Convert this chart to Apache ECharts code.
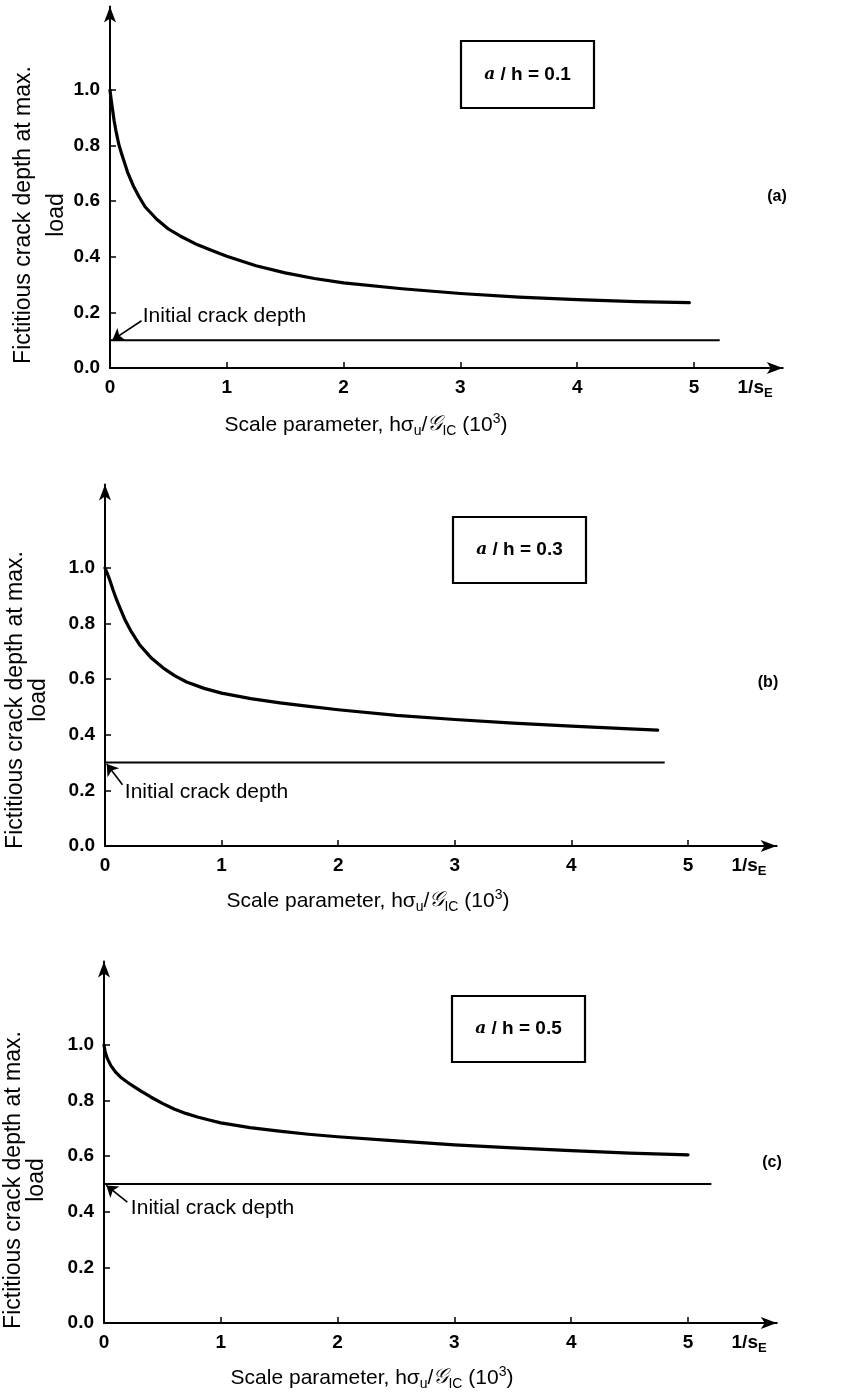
<!DOCTYPE html>
<html>
<head>
<meta charset="utf-8">
<script src="https://cdn.jsdelivr.net/npm/echarts@6/dist/echarts.min.js"></script>
<style>
  html, body { margin: 0; padding: 0; background: #fff; }
  #chart { width: 848px; height: 1394px; }
</style>
</head>
<body>
<div id="chart"></div>
<script>
// ---- data ----
const crackRatios = [0.1, 0.3, 0.5];          // a/h of each panel
const panelTags = ['(a)', '(b)', '(c)'];
const xTicks = [0, 1, 2, 3, 4, 5];
const yTicks = [0, 0.2, 0.4, 0.6, 0.8, 1.0];

// fictitious crack depth at max. load vs scale parameter
const curveA_x = [0, 0.01, 0.02, 0.035, 0.05, 0.075, 0.1, 0.15, 0.2, 0.25, 0.3, 0.4, 0.5, 0.6, 0.75, 0.9, 1.0, 1.25, 1.5, 1.75, 2.0, 2.5, 3.0, 3.5, 4.0, 4.5, 4.96];
const curveA_y = [1.0, 0.965, 0.935, 0.89, 0.855, 0.805, 0.77, 0.705, 0.655, 0.615, 0.58, 0.535, 0.50, 0.475, 0.443, 0.418, 0.402, 0.368, 0.342, 0.322, 0.306, 0.285, 0.268, 0.255, 0.246, 0.239, 0.235];
const curveB_x = [0, 0.02, 0.04, 0.07, 0.1, 0.13, 0.17, 0.22, 0.3, 0.4, 0.5, 0.6, 0.7, 0.85, 1.0, 1.25, 1.5, 1.75, 2.0, 2.5, 3.0, 3.5, 4.0, 4.5, 4.74];
const curveB_y = [1.0, 0.98, 0.958, 0.92, 0.885, 0.855, 0.815, 0.775, 0.722, 0.675, 0.64, 0.612, 0.59, 0.567, 0.55, 0.53, 0.515, 0.502, 0.49, 0.47, 0.455, 0.442, 0.431, 0.421, 0.417];
const curveC_x = [0, 0.01, 0.03, 0.06, 0.1, 0.14, 0.2, 0.25, 0.32, 0.4, 0.5, 0.6, 0.7, 0.8, 0.9, 1.0, 1.25, 1.5, 1.75, 2.0, 2.5, 3.0, 3.5, 4.0, 4.5, 5.0];
const curveC_y = [1.0, 0.975, 0.95, 0.925, 0.902, 0.885, 0.866, 0.852, 0.833, 0.813, 0.79, 0.77, 0.754, 0.741, 0.73, 0.72, 0.703, 0.69, 0.679, 0.67, 0.655, 0.641, 0.63, 0.62, 0.611, 0.605];

// horizontal "initial crack depth" line: right end on the x axis
const initialEndX = [5.22, 4.8, 5.2];
// pointer arrow (tail -> tip) and caption anchor, in data units
const arrowTail = [[0.27, 0.17], [0.15, 0.22], [0.20, 0.435]];
const arrowTip = [[0.02, 0.10], [0.015, 0.295], [0.02, 0.495]];
const captionAt = [[0.28, 0.185], [0.17, 0.194], [0.23, 0.414]];

const curvesX = [curveA_x, curveB_x, curveC_x];
const curvesY = [curveA_y, curveB_y, curveC_y];

// ---- layout ----
const X_MAX = 5.76, Y_MAX = 1.3;
const FONT = '"Liberation Sans", Arial, sans-serif';
const panels = [
  { left: 110, y0: 368,  px: 116.8, py: 278, box: [461, 41, 133, 67],  tag: [777, 197],
    titleX: 40.5, titleY: 215, titleLH: 33, nameY: 425,  nameX: 366 },
  { left: 105, y0: 846,  px: 116.6, py: 278, box: [453, 517, 133, 66], tag: [768, 683],
    titleX: 27.5, titleY: 700, titleLH: 23, nameY: 901,  nameX: 368 },
  { left: 104, y0: 1323, px: 116.8, py: 278, box: [452, 996, 133, 66], tag: [772, 1163],
    titleX: 25.5, titleY: 1180, titleLH: 23, nameY: 1378, nameX: 372 }
];

const grids = [], xAxes = [], yAxes = [], series = [], graphics = [];

panels.forEach((p, i) => {
  grids.push({
    left: p.left, top: p.y0 - Y_MAX * p.py,
    width: X_MAX * p.px, height: Y_MAX * p.py,
    outerBoundsMode: 'none', containLabel: false
  });
  xAxes.push({
    type: 'value', gridIndex: i, min: 0, max: X_MAX,
    axisLine: { show: true, onZero: false, symbol: ['none', 'arrow'], symbolSize: [9, 16],
      lineStyle: { color: '#000', width: 2 } },
    axisTick: { show: true, inside: true, length: 6, customValues: xTicks,
      lineStyle: { color: '#000', width: 1.5 } },
    axisLabel: { show: true, customValues: xTicks, color: '#000', fontFamily: FONT,
      fontWeight: 'bold', fontSize: 19, margin: 10, formatter: v => String(v) },
    splitLine: { show: false }
  });
  yAxes.push({
    type: 'value', gridIndex: i, min: 0, max: Y_MAX,
    axisLine: { show: true, onZero: false, symbol: ['none', 'arrow'], symbolSize: [9, 16],
      lineStyle: { color: '#000', width: 2 } },
    axisTick: { show: true, inside: true, length: 6, customValues: yTicks.slice(1),
      lineStyle: { color: '#000', width: 1.5 } },
    axisLabel: { show: true, customValues: yTicks, color: '#000', fontFamily: FONT,
      fontWeight: 'bold', fontSize: 19, margin: 10, formatter: v => v.toFixed(1) },
    splitLine: { show: false }
  });

  // main curve
  series.push({
    type: 'line', xAxisIndex: i, yAxisIndex: i, silent: true,
    data: curvesX[i].map((x, k) => [x, curvesY[i][k]]),
    showSymbol: false, smooth: false,
    lineStyle: { color: '#000', width: 3.2, cap: 'round', join: 'round' }
  });
  // initial crack depth line with its pointer arrow
  series.push({
    type: 'line', xAxisIndex: i, yAxisIndex: i, silent: true,
    data: [[0, crackRatios[i]], [initialEndX[i], crackRatios[i]]],
    showSymbol: false, lineStyle: { color: '#000', width: 2 },
    markLine: {
      silent: true, symbol: ['none', 'arrow'], symbolSize: 11,
      lineStyle: { color: '#000', width: 1.6, type: 'solid' },
      label: { show: false },
      data: [[{ coord: arrowTail[i] }, { coord: arrowTip[i] }]]
    }
  });
  // caption
  series.push({
    type: 'scatter', xAxisIndex: i, yAxisIndex: i, silent: true,
    data: [captionAt[i]], symbolSize: 0,
    itemStyle: { opacity: 1, color: '#000' },
    label: { show: true, position: 'right', distance: 0, formatter: 'Initial crack depth',
      color: '#000', opacity: 1, fontFamily: FONT, fontSize: 21 }
  });

  // a/h box
  const [bx, by, bw, bh] = p.box;
  graphics.push({
    type: 'rect', shape: { x: bx, y: by, width: bw, height: bh },
    style: { fill: '#fff', stroke: '#000', lineWidth: 2.2 }
  });
  graphics.push({
    type: 'text', x: bx + bw / 2, y: by + bh / 2,
    style: {
      text: '{i|a}{n| / h = ' + crackRatios[i].toFixed(1) + '}',
      align: 'center', verticalAlign: 'middle',
      rich: {
        i: { fontFamily: '"DejaVu Serif", serif', fontStyle: 'italic', fontWeight: 'bold', fontSize: 17, fill: '#000' },
        n: { fontFamily: FONT, fontWeight: 'bold', fontSize: 19, fill: '#000' }
      }
    }
  });
  // panel tag
  graphics.push({
    type: 'text', x: p.tag[0], y: p.tag[1],
    style: { text: panelTags[i], align: 'center', verticalAlign: 'middle',
      fontFamily: FONT, fontWeight: 'bold', fontSize: 16, fill: '#000' }
  });
  // y axis title (rotated, two lines)
  graphics.push({
    type: 'text', x: p.titleX, y: p.titleY, rotation: Math.PI / 2,
    style: { text: 'Fictitious crack depth at max.\nload', align: 'center', verticalAlign: 'middle',
      fontFamily: FONT, fontSize: 23, lineHeight: p.titleLH, fill: '#000' }
  });
  // x axis title
  graphics.push({
    type: 'text', x: p.nameX, y: p.nameY,
    style: {
      text: '{n|Scale parameter, hσ}{s|u}{n|/}{g|𝒢}{s|IC}{n| (10}{p|3}{n|)}',
      align: 'center', verticalAlign: 'middle',
      rich: {
        n: { fontFamily: FONT, fontSize: 21, fill: '#000', lineHeight: 26, verticalAlign: 'middle' },
        s: { fontFamily: FONT, fontSize: 14, fill: '#000', lineHeight: 26, verticalAlign: 'bottom', padding: [7, 0, 0, 0] },
        p: { fontFamily: FONT, fontSize: 14, fill: '#000', lineHeight: 26, verticalAlign: 'top', padding: [0, 0, 7, 0] },
        g: { fontFamily: '"DejaVu Serif", serif', fontStyle: 'italic', fontSize: 21, fill: '#000', lineHeight: 26, verticalAlign: 'middle' }
      }
    }
  });
  // 1/s_E at the end of the x axis
  graphics.push({
    type: 'text', x: p.left + 5.6 * p.px - 9, y: p.y0 + 20,
    style: {
      text: '{n|1/s}{s|E}', align: 'center', verticalAlign: 'middle',
      rich: {
        n: { fontFamily: FONT, fontWeight: 'bold', fontSize: 19, fill: '#000', lineHeight: 24, verticalAlign: 'middle' },
        s: { fontFamily: FONT, fontWeight: 'bold', fontSize: 13, fill: '#000', lineHeight: 24, verticalAlign: 'bottom', padding: [9, 0, 0, 0] }
      }
    }
  });
});

const chart = echarts.init(document.getElementById('chart'), null, { renderer: 'canvas' });
chart.setOption({
  backgroundColor: '#fff',
  animation: false,
  grid: grids,
  xAxis: xAxes,
  yAxis: yAxes,
  series: series,
  graphic: graphics
});
</script>
</body>
</html>
